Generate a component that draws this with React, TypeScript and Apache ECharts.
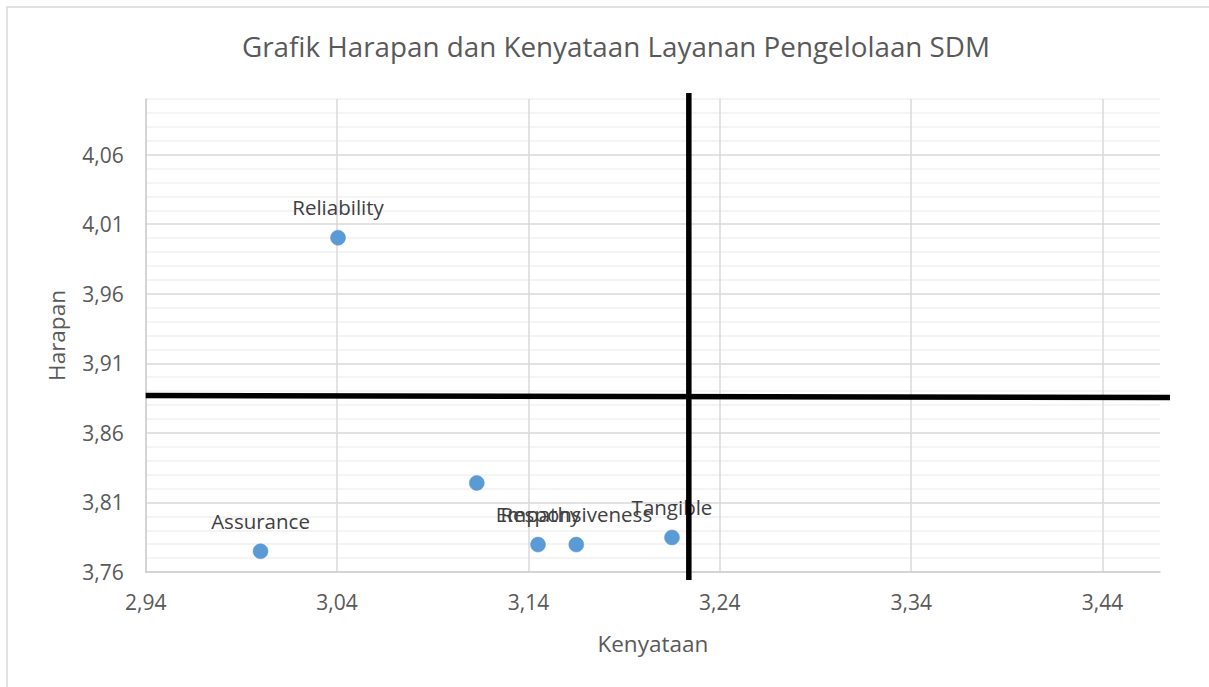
import React, { useEffect, useRef } from "react";
import * as echarts from "echarts";

const titleText = "Grafik Harapan dan Kenyataan Layanan Pengelolaan SDM";
const xAxisName = "Kenyataan";
const yAxisName = "Harapan";

const pointNames = ["Reliability", "Assurance", "", "Empathy", "Responsiveness", "Tangible"];
const kenyataan = [3.0405, 3.0, 3.113, 3.145, 3.165, 3.215];
const harapan = [4.0003, 3.7749, 3.824, 3.7797, 3.7797, 3.7848];

const xTickLabels = ["2,94", "3,04", "3,14", "3,24", "3,34", "3,44"];
const yTickLabels = ["3,76", "3,81", "3,86", "3,91", "3,96", "4,01", "4,06"];

const xMin = 2.94;
const xMax = 3.47;
const yMin = 3.76;
const yMax = 4.1;

// quadrant divider lines
const verticalLineX = 3.2238;
const horizontalLineY = [3.8868, 3.8854];

const FONT = "'Open Sans', 'Noto Sans', sans-serif";

export default function App() {
  const ref = useRef<HTMLDivElement>(null);

  useEffect(() => {
    if (!ref.current) return;
    const chart = echarts.init(ref.current, null, { renderer: "svg" });

    const grid = { left: 145.7, right: 49, top: 99, bottom: 115 };

    const option: any = {
      animation: false,
      backgroundColor: "#ffffff",
      textStyle: { fontFamily: FONT },
      title: {
        text: titleText,
        left: 611,
        top: 27,
        textAlign: "center",
        textStyle: { fontFamily: FONT, fontSize: 27.8, fontWeight: "normal", color: "#595959" },
      },
      grid: { ...grid, containLabel: false },
      xAxis: {
        type: "value",
        min: xMin,
        max: xMax,
        interval: 0.01,
        name: xAxisName,
        nameLocation: "middle",
        nameGap: 60,
        nameTextStyle: { fontFamily: FONT, fontSize: 22.5, color: "#595959" },
        axisLine: { show: true, lineStyle: { color: "#cfcfcf", width: 1.5 } },
        axisTick: { show: false },
        axisLabel: {
          margin: 19,
          fontFamily: FONT,
          fontSize: 21,
          color: "#595959",
          showMaxLabel: false,
          formatter: (v: number) => {
            const idx = Math.round((v - xMin) * 100);
            if (idx % 10 !== 0) return "";
            return xTickLabels[idx / 10] ?? "";
          },
        },
        splitLine: {
          show: true,
          showMaxLine: false,
          lineStyle: {
            width: 1.5,
            color: ["#d9d9d9", "rgba(0,0,0,0)", "rgba(0,0,0,0)", "rgba(0,0,0,0)", "rgba(0,0,0,0)", "rgba(0,0,0,0)", "rgba(0,0,0,0)", "rgba(0,0,0,0)", "rgba(0,0,0,0)", "rgba(0,0,0,0)"],
          },
        },
      },
      yAxis: {
        type: "value",
        min: yMin,
        max: yMax,
        interval: 0.01,
        name: yAxisName,
        nameLocation: "middle",
        nameGap: 78,
        nameTextStyle: { fontFamily: FONT, fontSize: 22.5, color: "#595959" },
        axisLine: { show: true, lineStyle: { color: "#cfcfcf", width: 1.5 } },
        axisTick: { show: false },
        axisLabel: {
          margin: 22,
          fontFamily: FONT,
          fontSize: 21,
          color: "#595959",
          formatter: (v: number) => {
            const idx = Math.round((v - yMin) * 100);
            if (idx % 5 !== 0) return "";
            return yTickLabels[idx / 5] ?? "";
          },
        },
        splitLine: {
          show: true,
          lineStyle: {
            width: 1.5,
            color: ["#d9d9d9", "#f0f0f0", "#f0f0f0", "#f0f0f0", "#f0f0f0"],
          },
        },
      },
      series: [
        {
          type: "scatter",
          symbol: "circle",
          symbolSize: 15,
          itemStyle: { color: "#5b9bd5", borderColor: "#5b9bd5", borderWidth: 0.5, opacity: 1 },
          label: {
            show: true,
            position: "top",
            distance: 12,
            fontFamily: FONT,
            fontSize: 20.5,
            color: "#404040",
            formatter: (p: any) => p.name,
          },
          data: kenyataan.map((x, i) => ({ name: pointNames[i], value: [x, harapan[i]] })),
        },
      ],
    };

    chart.setOption(option);

    const vTop = chart.convertToPixel({ gridIndex: 0 }, [verticalLineX, yMax]) as number[];
    const vBottom = chart.convertToPixel({ gridIndex: 0 }, [verticalLineX, yMin]) as number[];
    const hLeft = chart.convertToPixel({ gridIndex: 0 }, [xMin, horizontalLineY[0]]) as number[];
    const hRight = chart.convertToPixel({ gridIndex: 0 }, [xMax, horizontalLineY[1]]) as number[];

    chart.setOption({
      graphic: [
        {
          type: "rect",
          shape: { x: 7, y: 7, width: 1240, height: 720 },
          style: { fill: "none", stroke: "#d9d9d9", lineWidth: 1.5 },
          silent: true,
          z: 0,
        },
        {
          type: "line",
          shape: { x1: vTop[0], y1: vTop[1] - 6, x2: vBottom[0], y2: vBottom[1] + 8 },
          style: { stroke: "#000000", lineWidth: 5.5 },
          z: 100,
        },
        {
          type: "line",
          shape: { x1: hLeft[0], y1: hLeft[1], x2: hRight[0] + 10, y2: hRight[1] },
          style: { stroke: "#000000", lineWidth: 5.5 },
          z: 100,
        },
      ],
    });

    return () => chart.dispose();
  }, []);

  return (
    <div
      ref={ref}
      style={{ position: "fixed", left: 0, top: 0, width: 1209, height: 687, background: "#fff" }}
    />
  );
}
